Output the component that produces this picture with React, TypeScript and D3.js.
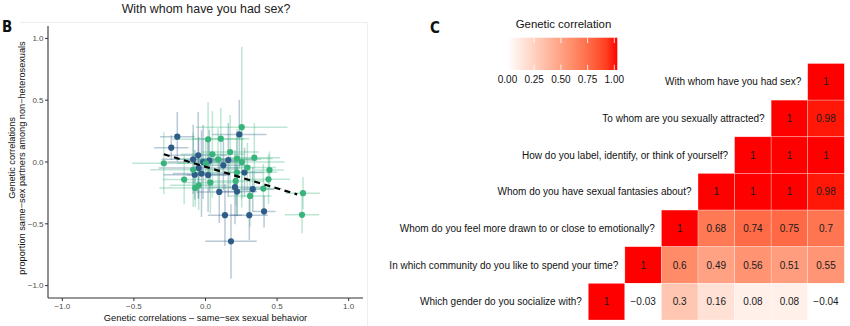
import React from "react";
import * as d3 from "d3";

// ---------- Panel B data ----------
const blueX = [-0.197, -0.239, 0.236, -0.051, -0.086, -0.017, 0.027, 0.125, 0.159, -0.048, -0.028, 0.018, -0.075, 0.272, 0.096, 0.206, 0.22, 0.33, 0.136, 0.306, 0.409, 0.178];
const blueY = [0.205, 0.116, 0.223, 0.054, 0.022, 0.0, 0.011, -0.027, 0.016, -0.048, -0.094, -0.105, -0.103, -0.085, -0.242, -0.204, -0.239, -0.22, -0.43, -0.43, -0.4, -0.642];
const blueXErr = [0.12, 0.12, 0.19, 0.2, 0.22, 0.25, 0.18, 0.15, 0.2, 0.28, 0.2, 0.15, 0.22, 0.13, 0.16, 0.18, 0.14, 0.15, 0.12, 0.13, 0.08, 0.18];
const blueYErr = [0.2, 0.1, 0.28, 0.35, 0.28, 0.3, 0.25, 0.2, 0.3, 0.25, 0.35, 0.3, 0.2, 0.2, 0.25, 0.3, 0.2, 0.18, 0.25, 0.2, 0.13, 0.3];

const greenX = [0.253, 0.018, 0.107, -0.291, -0.149, -0.072, -0.047, 0.034, 0.048, 0.088, 0.172, 0.22, 0.253, 0.341, 0.292, 0.22, 0.211, 0.447, 0.44, 0.404, 0.311, -0.086, 0.002, 0.681, 0.674];
const greenY = [0.282, 0.183, 0.189, -0.01, -0.142, -0.21, -0.188, -0.166, 0.062, 0.022, 0.081, 0.028, 0.0, 0.035, -0.045, -0.083, -0.153, -0.065, -0.14, -0.215, -0.274, -0.063, -0.01, -0.252, -0.427];
const greenXErr = [0.32, 0.25, 0.2, 0.22, 0.15, 0.25, 0.2, 0.18, 0.22, 0.3, 0.2, 0.25, 0.3, 0.18, 0.2, 0.28, 0.2, 0.1, 0.15, 0.13, 0.15, 0.3, 0.2, 0.12, 0.12];
const greenYErr = [0.65, 0.3, 0.25, 0.25, 0.2, 0.15, 0.2, 0.25, 0.35, 0.25, 0.3, 0.2, 0.3, 0.28, 0.2, 0.35, 0.2, 0.15, 0.2, 0.2, 0.25, 0.3, 0.2, 0.13, 0.15];

const fitX = [-0.291, 0.64];
const fitY = [0.063, -0.262];

const axisTicks = [-1, -0.5, 0, 0.5, 1];

// ---------- Panel C data ----------
const questions = [
  "With whom have you had sex?",
  "To whom are you sexually attracted?",
  "How do you label, identify, or think of yourself?",
  "Whom do you have sexual fantasies about?",
  "Whom do you feel more drawn to or close to emotionally?",
  "In which community do you like to spend your time?",
  "Which gender do you socialize with?",
];
const corrRows = [
  [1],
  [1, 0.98],
  [1, 1, 1],
  [1, 1, 1, 0.98],
  [1, 0.68, 0.74, 0.75, 0.7],
  [1, 0.6, 0.49, 0.56, 0.51, 0.55],
  [1, -0.03, 0.3, 0.16, 0.08, 0.08, -0.04],
];
const legendTicks = [0, 0.25, 0.5, 0.75, 1];

const FONT = "'Liberation Sans', Arial, Helvetica, sans-serif";
const BLUE = "#2e5c88";
const GREEN = "#37b47c";

export default function App() {
  // Panel B scales
  const x = d3.scaleLinear().domain([-1.1, 1.1]).range([48, 363]);
  const y = d3.scaleLinear().domain([-1.1, 1.1]).range([298, 26]);
  const fmt1 = (v: number) => d3.format(".1f")(v).replace("-", "\u2212");

  // Panel C scales
  const n = questions.length;
  const xb = d3.scaleBand<number>().domain(d3.range(n)).range([588.3, 844.3]);
  const yb = d3.scaleBand<number>().domain(d3.range(n)).range([63.5, 320]);
  const color = d3
    .scaleLinear<string>()
    .domain([0, 1])
    .range(["#ffffff", "#ff0000"])
    .interpolate(d3.interpolateLab)
    .clamp(true);
  const lx = d3.scaleLinear().domain([0, 1]).range([507.5, 614.3]);

  const blue = blueX.map((v, i) => ({ x: v, y: blueY[i], ex: blueXErr[i], ey: blueYErr[i] }));
  const green = greenX.map((v, i) => ({ x: v, y: greenY[i], ex: greenXErr[i], ey: greenYErr[i] }));

  const errBars = (pts: typeof blue, col: string, key: string) =>
    pts.map((p, i) => (
      <g key={key + i} stroke={col} strokeOpacity={0.33} strokeWidth={1.5}>
        <line x1={x(p.x - p.ex)} x2={x(p.x + p.ex)} y1={y(p.y)} y2={y(p.y)} />
        <line x1={x(p.x)} x2={x(p.x)} y1={y(p.y - p.ey)} y2={y(p.y + p.ey)} />
      </g>
    ));

  const line = d3
    .line<number>()
    .x((d) => x(d))
    .y((d, i) => y(fitY[i]));

  const cells: { r: number; c: number; v: number }[] = [];
  corrRows.forEach((row, r) =>
    row.forEach((v, k) => cells.push({ r, c: n - 1 - r + k, v }))
  );
  const fmtV = (v: number) => String(v).replace("-", "\u2212");

  const gradStops = d3.range(0, 1.0001, 0.1);

  return (
    <div style={{ position: "absolute", left: 0, top: 0 }}>
      <svg width={850} height={326} style={{ display: "block", fontFamily: FONT }}>
        <rect width={850} height={326} fill="#fff" />
        {/* Panel B frame */}
        <path d="M20,22.5H367.5V326" fill="none" stroke="#eeeeee" strokeWidth={1} />
        <text x={206} y={13} fontSize={12.4} textAnchor="middle" fill="#222">
          With whom have you had sex?
        </text>
        <text x={2} y={32} fontSize={15} fontWeight="bold" fill="#111" fontFamily="'DejaVu Sans Condensed', 'DejaVu Sans', sans-serif">
          B
        </text>
        {/* error bars */}
        {errBars(blue, BLUE, "bb")}
        {errBars(green, GREEN, "gb")}
        {/* points */}
        {blue.map((p, i) => (
          <circle key={"bp" + i} cx={x(p.x)} cy={y(p.y)} r={3.1} fill={BLUE} />
        ))}
        {green.map((p, i) => (
          <circle key={"gp" + i} cx={x(p.x)} cy={y(p.y)} r={3.1} fill={GREEN} />
        ))}
        <path d={line(fitX) || ""} fill="none" stroke="#000" strokeWidth={2.2} strokeDasharray="6,4.5" />
        {/* axes */}
        <line x1={48} x2={363} y1={298} y2={298} stroke="#333" strokeWidth={1.1} />
        <line x1={48} x2={48} y1={26} y2={298} stroke="#333" strokeWidth={1.1} />
        {axisTicks.map((t) => (
          <g key={"xt" + t}>
            <line x1={x(t)} x2={x(t)} y1={298} y2={301} stroke="#333" />
            <text x={x(t)} y={308.5} fontSize={8} textAnchor="middle" fill="#4d4d4d">
              {fmt1(t)}
            </text>
          </g>
        ))}
        {axisTicks.map((t) => (
          <g key={"yt" + t}>
            <line x1={45} x2={48} y1={y(t)} y2={y(t)} stroke="#333" />
            <text x={43.5} y={y(t) + 2.8} fontSize={8} textAnchor="end" fill="#4d4d4d">
              {fmt1(t)}
            </text>
          </g>
        ))}
        <text x={205.5} y={320.5} fontSize={9.3} textAnchor="middle" fill="#111">
          Genetic correlations – same−sex sexual behavior
        </text>
        <g transform="translate(14.5,158) rotate(-90)">
          <text x={0} y={0} fontSize={9.2} textAnchor="middle" fill="#111">
            Genetic correlations
          </text>
          <text x={0} y={10.5} fontSize={9.2} textAnchor="middle" fill="#111">
            proportion same−sex partners among non−heterosexuals
          </text>
        </g>

        {/* Panel C */}
        <text x={430} y={33} fontSize={15} fontWeight="bold" fill="#111" fontFamily="'DejaVu Sans Condensed', 'DejaVu Sans', sans-serif">
          C
        </text>
        <text x={563.5} y={27.5} fontSize={11.4} textAnchor="middle" fill="#111">
          Genetic correlation
        </text>
        <defs>
          <linearGradient id="lg" x1="0" x2="1" y1="0" y2="0">
            {gradStops.map((s) => (
              <stop key={s} offset={s} stopColor={color(s)} />
            ))}
          </linearGradient>
        </defs>
        <rect x={lx(0)} y={37.7} width={617.3 - lx(0)} height={32.3} fill="url(#lg)" />
        {legendTicks.map((t) => (
          <g key={"lt" + t}>
            <line x1={lx(t)} x2={lx(t)} y1={37.7} y2={43} stroke="#fff" strokeWidth={0.8} />
            <line x1={lx(t)} x2={lx(t)} y1={64.7} y2={70} stroke="#fff" strokeWidth={0.8} />
            <text x={lx(t)} y={83} fontSize={10} textAnchor="middle" fill="#111">
              {d3.format(".2f")(t)}
            </text>
          </g>
        ))}
        {cells.map((d) => (
          <g key={"c" + d.r + "_" + d.c}>
            <rect
              x={xb(d.c)}
              y={yb(d.r)}
              width={xb.bandwidth()}
              height={yb.bandwidth()}
              fill={color(d.v)}
              stroke="#ffffff"
              strokeOpacity={0.45}
              strokeWidth={0.6}
            />
            <text
              x={(xb(d.c) || 0) + xb.bandwidth() / 2}
              y={(yb(d.r) || 0) + yb.bandwidth() / 2 + 3.6}
              fontSize={10}
              textAnchor="middle"
              fill="#1a1a1a"
            >
              {fmtV(d.v)}
            </text>
          </g>
        ))}
        {questions.map((q, r) => (
          <text
            key={"q" + r}
            x={(xb(n - 1 - r) || 0) - 6.5}
            y={(yb(r) || 0) + yb.bandwidth() / 2 + 3.6}
            fontSize={10}
            textAnchor="end"
            fill="#111"
          >
            {q}
          </text>
        ))}
      </svg>
    </div>
  );
}
